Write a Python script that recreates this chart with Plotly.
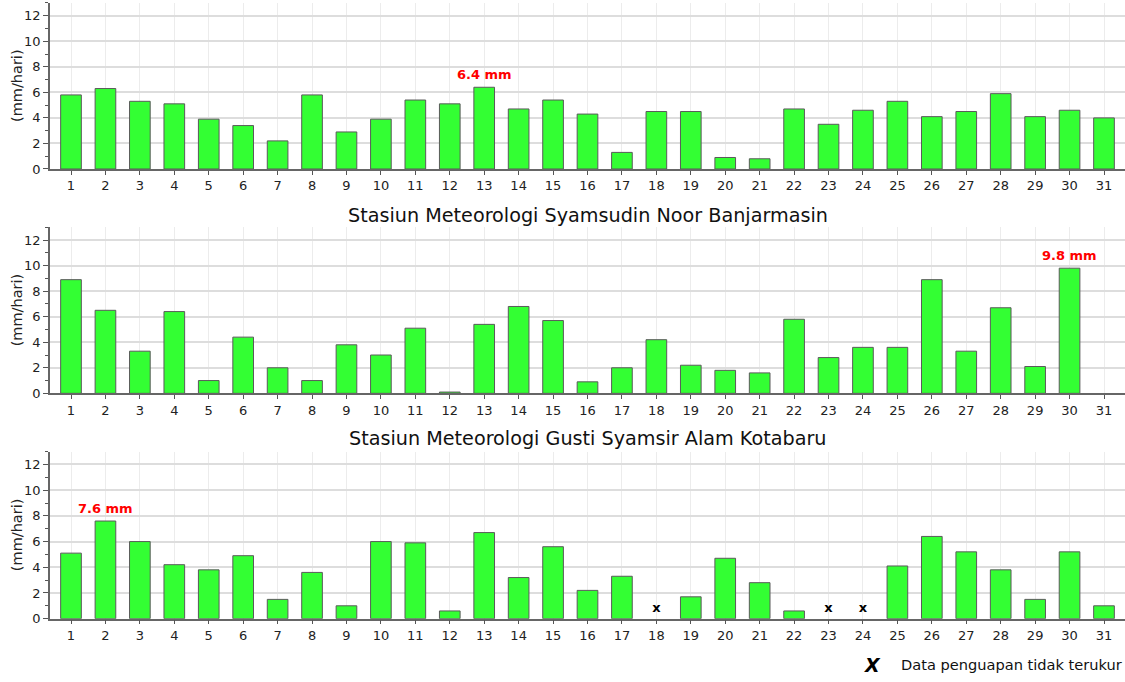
import plotly.graph_objects as go

days = list(range(1, 32))

stations = [
    "Stasiun Klimatologi Kalimantan Selatan",
    "Stasiun Meteorologi Syamsudin Noor Banjarmasin",
    "Stasiun Meteorologi Gusti Syamsir Alam Kotabaru",
]
y_label = "(mm/hari)"

evap_top = [5.8, 6.3, 5.3, 5.1, 3.9, 3.4, 2.2, 5.8, 2.9, 3.9, 5.4, 5.1, 6.4, 4.7, 5.4,
            4.3, 1.3, 4.5, 4.5, 0.9, 0.8, 4.7, 3.5, 4.6, 5.3, 4.1, 4.5, 5.9, 4.1, 4.6, 4.0]
evap_mid = [8.9, 6.5, 3.3, 6.4, 1.0, 4.4, 2.0, 1.0, 3.8, 3.0, 5.1, 0.1, 5.4, 6.8, 5.7,
            0.9, 2.0, 4.2, 2.2, 1.8, 1.6, 5.8, 2.8, 3.6, 3.6, 8.9, 3.3, 6.7, 2.1, 9.8, None]
evap_bot = [5.1, 7.6, 6.0, 4.2, 3.8, 4.9, 1.5, 3.6, 1.0, 6.0, 5.9, 0.6, 6.7, 3.2, 5.6,
            2.2, 3.3, None, 1.7, 4.7, 2.8, 0.6, None, None, 4.1, 6.4, 5.2, 3.8, 1.5, 5.2, 1.0]

missing_days_bot = [18, 23, 24]
missing_label_y = [0.8, 0.8, 0.8]

series = [evap_top, evap_mid, evap_bot]

W, H = 1125, 682
FONT = "DejaVu Sans"

# pixel layout -> paper fractions
x_dom = [50 / W, 1.0]
y_px = [(3, 171), (230, 398), (457, 626)]  # (top, bottom) pixels
y_doms = [[1 - b / H, 1 - t / H] for (t, b) in y_px]
title_px = [None, 218, 444]

fig = go.Figure()
annotations = []

for i, vals in enumerate(series):
    ax = "" if i == 0 else str(i + 1)
    fig.add_trace(go.Bar(
        x=days, y=vals, width=0.6,
        marker=dict(color="#33ff33", line=dict(color="#5a5a5a", width=1)),
        xaxis="x" + ax, yaxis="y" + ax, showlegend=False,
    ))
    # highest value label
    valid = [(v, d) for v, d in zip(vals, days) if v is not None]
    vmax, dmax = max(valid)
    annotations.append(dict(
        x=dmax, y=vmax + 1.0, xref="x" + ax, yref="y" + ax,
        text=f"<b>{vmax} mm</b>", showarrow=False,
        font=dict(family=FONT, size=13, color="#ff0000"),
        xanchor="center", yanchor="middle",
    ))
    if title_px[i] is not None:
        annotations.append(dict(
            x=(x_dom[0] + x_dom[1]) / 2, y=1 - title_px[i] / H, xref="paper", yref="paper",
            text=stations[i], showarrow=False,
            font=dict(family=FONT, size=19.2, color="#111111"),
            xanchor="center", yanchor="middle",
        ))
    # y-axis label
    annotations.append(dict(
        x=17 / W, y=sum(y_doms[i]) / 2, xref="paper", yref="paper",
        text=y_label, textangle=-90, showarrow=False,
        font=dict(family=FONT, size=14.5, color="#222222"),
        xanchor="center", yanchor="middle",
    ))
    fig.update_layout(**{
        "xaxis" + ax: dict(
            domain=x_dom, range=[0.39, 31.61], anchor="y" + ax,
            tickmode="array", tickvals=days, ticktext=[str(d) for d in days],
            ticks="outside", ticklen=4, tickcolor="#555555",
            showgrid=True, gridcolor="#ececec", gridwidth=1,
            showline=True, linecolor="#666666", linewidth=1.5,
            zeroline=False,
            tickfont=dict(family=FONT, size=13, color="#222222"),
        ),
        "yaxis" + ax: dict(
            domain=y_doms[i], range=[0, 13], anchor="x" + ax,
            tickmode="linear", tick0=0, dtick=2,
            ticks="outside", ticklen=5, tickcolor="#555555",
            minor=dict(dtick=1, tick0=0, ticks="outside", ticklen=3,
                       tickcolor="#555555", showgrid=False),
            showgrid=True, gridcolor="#dddddd", gridwidth=1.5,
            showline=True, linecolor="#666666", linewidth=1.5,
            zeroline=False,
            tickfont=dict(family=FONT, size=13, color="#222222"),
        ),
    })

# missing data markers on bottom panel
fig.add_trace(go.Scatter(
    x=missing_days_bot, y=missing_label_y, mode="text", text=["<b>x</b>"] * len(missing_days_bot),
    textfont=dict(family=FONT, size=13, color="#000000"),
    xaxis="x3", yaxis="y3", showlegend=False, hoverinfo="skip",
))

# legend note
annotations.append(dict(
    x=872 / W, y=1 - 673 / H, xref="paper", yref="paper",
    text="<b><i>X</i></b>", showarrow=False,
    font=dict(family=FONT, size=19, color="#000000"),
    xanchor="center", yanchor="middle",
))
annotations.append(dict(
    x=899 / W, y=1 - 672 / H, xref="paper", yref="paper",
    text="Data penguapan tidak terukur", showarrow=False,
    font=dict(family=FONT, size=14.6, color="#111111"),
    xanchor="left", yanchor="middle",
))

fig.update_layout(
    width=W, height=H,
    margin=dict(l=0, r=0, t=0, b=0),
    paper_bgcolor="white", plot_bgcolor="white",
    bargap=0.4,
    annotations=annotations,
    font=dict(family=FONT),
)

fig.write_html(
    "out.html",
    config={"displayModeBar": False},
    post_script=(
        "document.documentElement.style.overflow='hidden';"
        "document.body.style.margin='0';"
        "document.body.style.padding='0';"
        "document.body.style.overflow='hidden';"
    ),
)
